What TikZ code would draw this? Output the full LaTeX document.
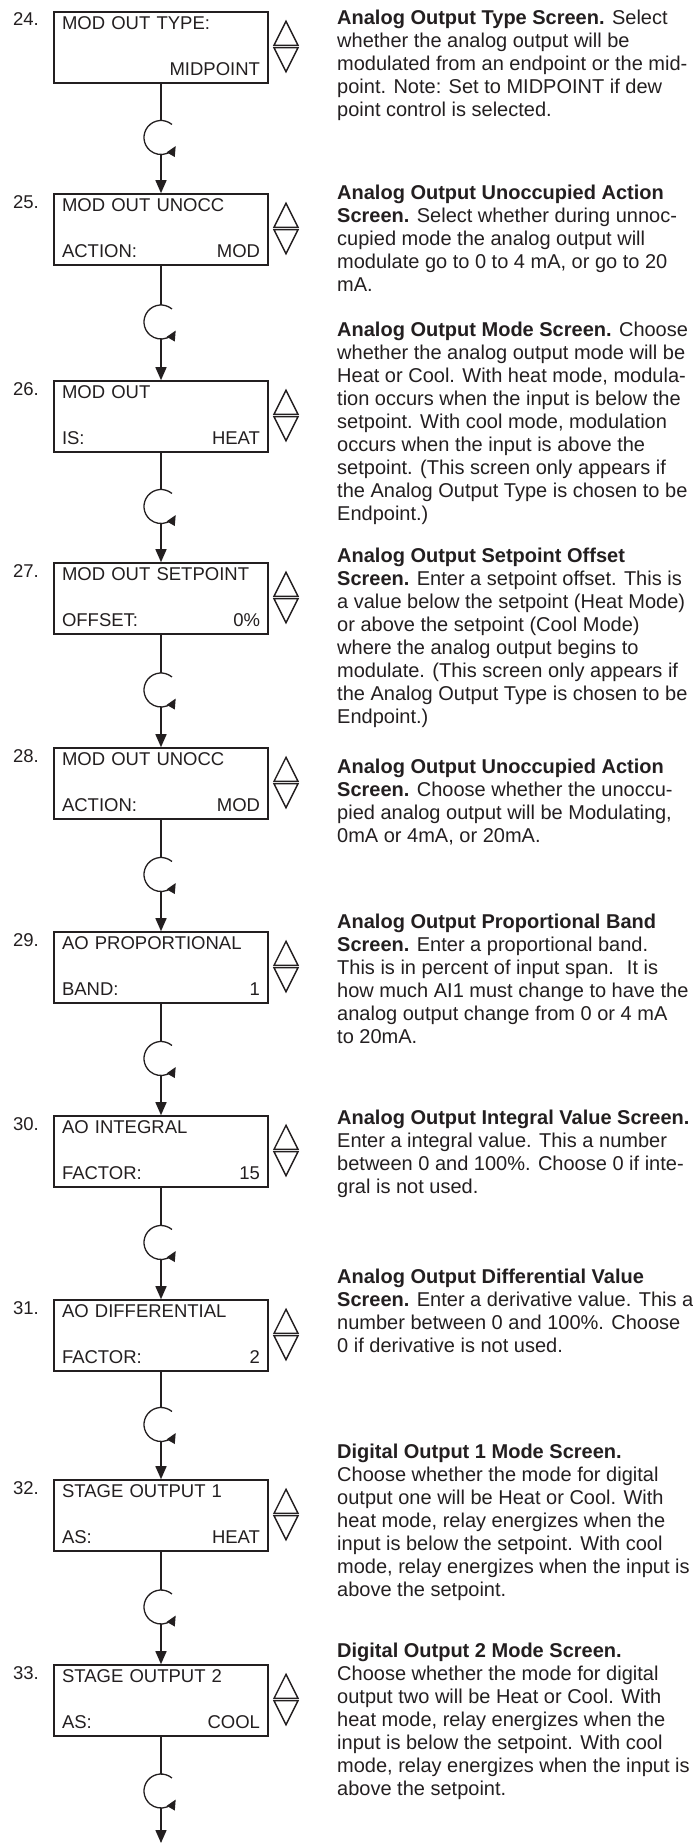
\documentclass[tikz,border=0pt]{standalone}
\usepackage{fontspec}
\setmainfont{Liberation Sans}
\usetikzlibrary{arrows.meta}
\definecolor{ink}{RGB}{35,31,32}

\begin{document}
\begin{tikzpicture}[x=1pt, y=1pt, color=ink,
  screenbox/.style={draw, rectangle, line width=1.6pt, minimum width=214pt,
    minimum height=71pt, inner sep=0pt, text width=198pt, align=left,
    font=\fontsize{18.5}{46.5}\selectfont,
    execute at end node={\rule[-2.8pt]{0pt}{2.8pt}}},
  numlabel/.style={anchor=base east, inner sep=0pt, font=\fontsize{18.5}{22}\selectfont},
  updown/.style={minimum width=28pt, minimum height=56pt, inner sep=0pt,
    path picture={\draw[line width=1.4pt]
      ([shift={(-12,1.2)}]path picture bounding box.center) -- ++(12,24) -- ++(12,-24) -- cycle
      ([shift={(-12,-1.2)}]path picture bounding box.center) -- ++(12,-24) -- ++(12,24) -- cycle;}},
  cyc/.style={circle, minimum size=34pt, inner sep=0pt, outer sep=0pt},
  cycarrow/.style={line width=1.3pt, -{Triangle[length=10pt,width=9pt]}},
  link/.style={line width=1.5pt},
  flow/.style={line width=1.5pt, -{Triangle[length=13pt,width=11pt]}},
  note/.style={anchor=north west, inner sep=0pt, align=left,
    font=\fontsize{20}{23}\selectfont}]

 \useasboundingbox (0,0) rectangle (693,-1844);

 % screens
 \node[screenbox] (screen_24) at (161,-47.5)
     {MOD OUT TYPE:\\ \hfill MIDPOINT};
 \node[screenbox] (screen_25) at (161,-229.5)
     {MOD OUT UNOCC\\ ACTION:\hfill MOD};
 \node[screenbox] (screen_26) at (161,-416.5)
     {MOD OUT\\ IS:\hfill HEAT};
 \node[screenbox] (screen_27) at (161,-598.5)
     {MOD OUT SETPOINT\\ OFFSET:\hfill 0\%};
 \node[screenbox] (screen_28) at (161,-783.5)
     {MOD OUT UNOCC\\ ACTION:\hfill MOD};
 \node[screenbox] (screen_29) at (161,-967.5)
     {AO PROPORTIONAL\\ BAND:\hfill 1};
 \node[screenbox] (screen_30) at (161,-1151.5)
     {AO INTEGRAL\\ FACTOR:\hfill 15};
 \node[screenbox] (screen_31) at (161,-1335.5)
     {AO DIFFERENTIAL\\ FACTOR:\hfill 2};
 \node[screenbox] (screen_32) at (161,-1515.5)
     {STAGE OUTPUT 1\\ AS:\hfill HEAT};
 \node[screenbox] (screen_33) at (161,-1700.5)
     {STAGE OUTPUT 2\\ AS:\hfill COOL};

 % step numbers
 \node[numlabel] (label_24) at (39,-26) {24.};
 \node[numlabel] (label_25) at (39,-208) {25.};
 \node[numlabel] (label_26) at (39,-395) {26.};
 \node[numlabel] (label_27) at (39,-577) {27.};
 \node[numlabel] (label_28) at (39,-762) {28.};
 \node[numlabel] (label_29) at (39,-946) {29.};
 \node[numlabel] (label_30) at (39,-1130) {30.};
 \node[numlabel] (label_31) at (39,-1314) {31.};
 \node[numlabel] (label_32) at (39,-1494) {32.};
 \node[numlabel] (label_33) at (39,-1679) {33.};

 % up/down keys
 \node[updown] (keys_24) at (286,-46.5) {};
 \node[updown] (keys_25) at (286,-228.5) {};
 \node[updown] (keys_26) at (286,-415.5) {};
 \node[updown] (keys_27) at (286,-597.5) {};
 \node[updown] (keys_28) at (286,-782.5) {};
 \node[updown] (keys_29) at (286,-966.5) {};
 \node[updown] (keys_30) at (286,-1150.5) {};
 \node[updown] (keys_31) at (286,-1334.5) {};
 \node[updown] (keys_32) at (286,-1514.5) {};
 \node[updown] (keys_33) at (286,-1699.5) {};

 % cycle marks
 \node[cyc] (cycle_24) at (161,-137.5) {};
 \node[cyc] (cycle_25) at (161,-322) {};
 \node[cyc] (cycle_26) at (161,-506.5) {};
 \node[cyc] (cycle_27) at (161,-690) {};
 \node[cyc] (cycle_28) at (161,-874.5) {};
 \node[cyc] (cycle_29) at (161,-1058.5) {};
 \node[cyc] (cycle_30) at (161,-1242.5) {};
 \node[cyc] (cycle_31) at (161,-1424.5) {};
 \node[cyc] (cycle_32) at (161,-1607) {};
 \node[cyc] (cycle_33) at (161,-1791) {};
 \coordinate (exit_33) at (161,-1843);

 % descriptions
 \node[note] (text_24) at (337,-9.4)
     {\textbf{Analog Output Type Screen.} Select\\
      whether the analog output will be\\
      modulated from an endpoint or the mid-\\
      point. Note: Set to MIDPOINT if dew\\
      point control is selected.};
 \node[note] (text_25) at (337,-184.4)
     {\textbf{Analog Output Unoccupied Action}\\
      \textbf{Screen.} Select whether during unnoc-\\
      cupied mode the analog output will\\
      modulate go to 0 to 4 mA, or go to 20\\
      mA.};
 \node[note] (text_26) at (337,-321.4)
     {\textbf{Analog Output Mode Screen.} Choose\\
      whether the analog output mode will be\\
      Heat or Cool. With heat mode, modula-\\
      tion occurs when the input is below the\\
      setpoint. With cool mode, modulation\\
      occurs when the input is above the\\
      setpoint. (This screen only appears if\\
      the Analog Output Type is chosen to be\\
      Endpoint.)};
 \node[note] (text_27) at (337,-547.4)
     {\textbf{Analog Output Setpoint Offset}\\
      \textbf{Screen.} Enter a setpoint offset. This is\\
      a value below the setpoint (Heat Mode)\\
      or above the setpoint (Cool Mode)\\
      where the analog output begins to\\
      modulate. (This screen only appears if\\
      the Analog Output Type is chosen to be\\
      Endpoint.)};
 \node[note] (text_28) at (337,-758.4)
     {\textbf{Analog Output Unoccupied Action}\\
      \textbf{Screen.} Choose whether the unoccu-\\
      pied analog output will be Modulating,\\
      0mA or 4mA, or 20mA.};
 \node[note] (text_29) at (337,-913.4)
     {\textbf{Analog Output Proportional Band}\\
      \textbf{Screen.} Enter a proportional band.\\
      This is in percent of input span.~ It is\\
      how much AI1 must change to have the\\
      analog output change from 0 or 4 mA\\
      to 20mA.};
 \node[note] (text_30) at (337,-1109.4)
     {\textbf{Analog Output Integral Value Screen.}\\
      Enter a integral value. This a number\\
      between 0 and 100\%. Choose 0 if inte-\\
      gral is not used.};
 \node[note] (text_31) at (337,-1268.4)
     {\textbf{Analog Output Differential Value}\\
      \textbf{Screen.} Enter a derivative value. This a\\
      number between 0 and 100\%. Choose\\
      0 if derivative is not used.};
 \node[note] (text_32) at (337,-1443.4)
     {\textbf{Digital Output 1 Mode Screen.}\\
      Choose whether the mode for digital\\
      output one will be Heat or Cool. With\\
      heat mode, relay energizes when the\\
      input is below the setpoint. With cool\\
      mode, relay energizes when the input is\\
      above the setpoint.};
 \node[note] (text_33) at (337,-1642.4)
     {\textbf{Digital Output 2 Mode Screen.}\\
      Choose whether the mode for digital\\
      output two will be Heat or Cool. With\\
      heat mode, relay energizes when the\\
      input is below the setpoint. With cool\\
      mode, relay energizes when the input is\\
      above the setpoint.};


 \draw [link] (screen_24) -- (cycle_24);
 \draw [flow] (cycle_24) -- (screen_25);
 \draw [link] (screen_25) -- (cycle_25);
 \draw [flow] (cycle_25) -- (screen_26);
 \draw [link] (screen_26) -- (cycle_26);
 \draw [flow] (cycle_26) -- (screen_27);
 \draw [link] (screen_27) -- (cycle_27);
 \draw [flow] (cycle_27) -- (screen_28);
 \draw [link] (screen_28) -- (cycle_28);
 \draw [flow] (cycle_28) -- (screen_29);
 \draw [link] (screen_29) -- (cycle_29);
 \draw [flow] (cycle_29) -- (screen_30);
 \draw [link] (screen_30) -- (cycle_30);
 \draw [flow] (cycle_30) -- (screen_31);
 \draw [link] (screen_31) -- (cycle_31);
 \draw [flow] (cycle_31) -- (screen_32);
 \draw [link] (screen_32) -- (cycle_32);
 \draw [flow] (cycle_32) -- (screen_33);
 \draw [link] (screen_33) -- (cycle_33);
 \draw [flow] (cycle_33) -- (exit_33);

 \draw [cycarrow] (cycle_24.50) arc [start angle=50, end angle=330, radius=17];
 \draw [cycarrow] (cycle_25.50) arc [start angle=50, end angle=330, radius=17];
 \draw [cycarrow] (cycle_26.50) arc [start angle=50, end angle=330, radius=17];
 \draw [cycarrow] (cycle_27.50) arc [start angle=50, end angle=330, radius=17];
 \draw [cycarrow] (cycle_28.50) arc [start angle=50, end angle=330, radius=17];
 \draw [cycarrow] (cycle_29.50) arc [start angle=50, end angle=330, radius=17];
 \draw [cycarrow] (cycle_30.50) arc [start angle=50, end angle=330, radius=17];
 \draw [cycarrow] (cycle_31.50) arc [start angle=50, end angle=330, radius=17];
 \draw [cycarrow] (cycle_32.50) arc [start angle=50, end angle=330, radius=17];
 \draw [cycarrow] (cycle_33.50) arc [start angle=50, end angle=330, radius=17];


\end{tikzpicture}
\end{document}
